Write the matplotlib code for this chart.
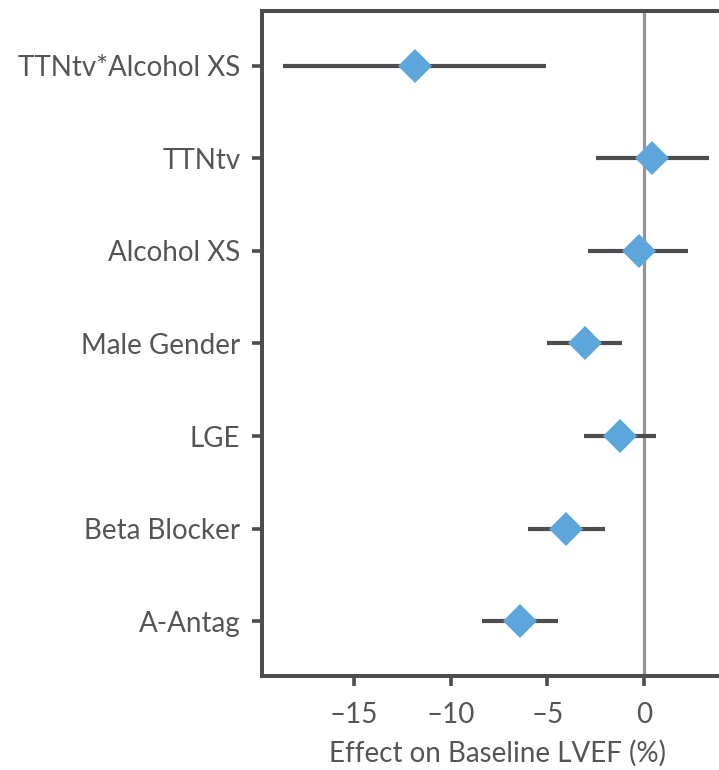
import matplotlib
matplotlib.use("Agg")
import matplotlib.pyplot as plt

# Model terms (top to bottom) with point estimate and 95% CI
terms = ["TTNtv*Alcohol XS", "TTNtv", "Alcohol XS", "Male Gender",
         "LGE", "Beta Blocker", "A-Antag"]
estimate = [-11.85, 0.43, -0.26, -3.07, -1.24, -4.02, -6.40]
ci_low = [-18.67, -2.50, -2.88, -5.00, -3.09, -6.02, -8.38]
ci_high = [-5.07, 3.38, 2.29, -1.15, 0.62, -2.00, -4.47]
xticks = [-15, -10, -5, 0]

plt.rcParams['font.family'] = ['Lato', 'DejaVu Sans']
text_col = '#555555'
dark = '#4d4d4f'

fig = plt.figure(figsize=(7.19, 7.70), dpi=100)
ax = fig.add_axes([0.3644, 0.1221, 0.655, 0.8636])

rows = list(range(len(terms)))
ax.axvline(0, color='#959599', lw=2.3, zorder=1)
ax.hlines(rows, ci_low, ci_high, color=dark, lw=3.0, zorder=2)
ax.plot(estimate, rows, linestyle='none', marker='D', markersize=17.5,
        color='#5da6db', markeredgewidth=0, zorder=3)

ax.set_xlim(-19.75, 4.6)
ax.set_ylim(len(terms) - 0.41, -0.59)
ax.set_yticks(rows)
ax.set_yticklabels(terms)
ax.set_xticks(xticks)
ax.set_xticklabels(['\u2013' + str(-t) if t < 0 else str(t) for t in xticks])

for s in ax.spines.values():
    s.set_linewidth(2.9)
    s.set_color(dark)

ax.tick_params(axis='both', length=7.5, width=2.6, color=dark,
               labelsize=20, labelcolor=text_col)
ax.tick_params(axis='y', pad=8)
ax.tick_params(axis='x', pad=11)
ax.set_xlabel('Effect on Baseline LVEF (%)', fontsize=20, color=text_col,
              labelpad=9)

fig.savefig('out.png', dpi=100)
